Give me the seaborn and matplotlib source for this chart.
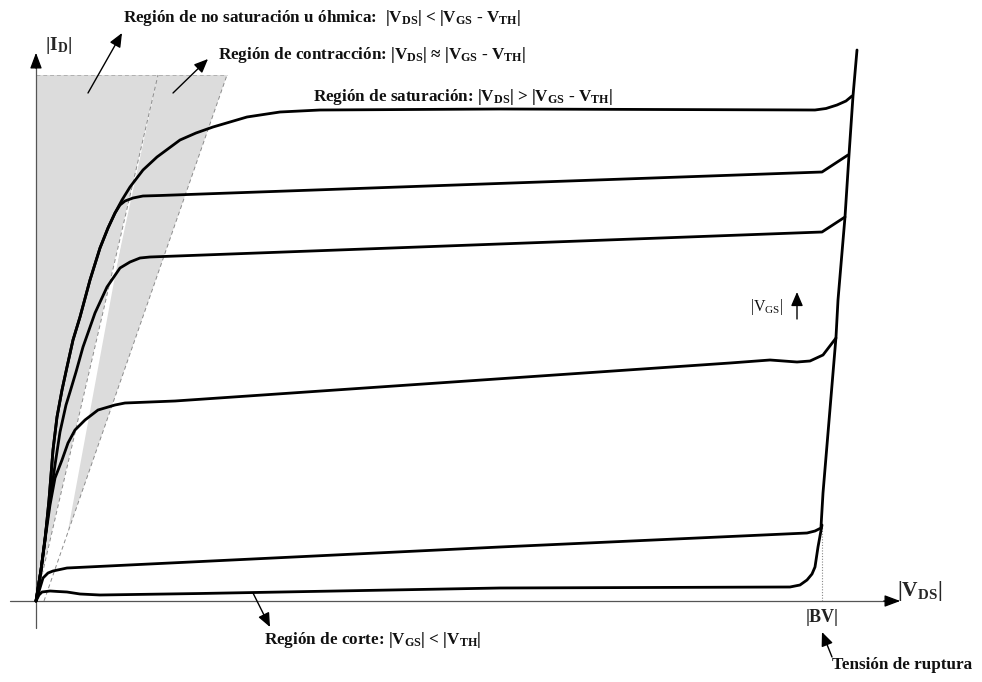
import matplotlib
matplotlib.use("Agg")
import matplotlib.pyplot as plt
import numpy as np
import pandas as pd
import seaborn as sns

# --- Output characteristics of a MOSFET (arbitrary units) -------------------
# Each curve: |V_DS| values and matching |I_D| values, lowest |V_GS| last.
vds_1 = [0.0, 0.5, 0.9, 1.3, 1.7, 2.1, 2.6, 3.1, 3.7, 4.4, 5.4, 6.4, 7.2, 7.9,
         8.6, 9.4, 10.7, 12.1, 14.4, 16.0, 17.7, 19.4, 21.1, 24.4, 28.4, 46.4,
         77.9, 79.0, 80.1, 81.0, 81.6]
id_1 = [0.0, 3.1, 6.1, 10.1, 15.1, 18.4, 21.1, 23.4, 26.1, 28.4, 32.1, 35.3,
        37.3, 38.8, 40.1, 41.4, 43.1, 44.4, 46.1, 46.8, 47.4, 47.9, 48.4, 48.9,
        49.1, 49.2, 49.1, 49.25, 49.6, 50.0, 50.5]

vds_2 = [0.0, 0.5, 0.9, 1.3, 1.7, 2.1, 2.6, 3.1, 3.7, 4.4, 5.4, 6.4, 7.2, 7.9,
         8.4, 8.9, 9.7, 10.7, 12.4, 78.6, 81.2]
id_2 = [0.0, 3.1, 6.1, 10.1, 15.1, 18.4, 21.1, 23.4, 26.1, 28.4, 32.1, 35.3,
        37.3, 38.8, 39.6, 40.0, 40.3, 40.5, 40.55, 42.9, 44.6]

vds_3 = [0.0, 0.5, 0.9, 1.4, 1.9, 2.4, 3.0, 3.4, 4.0, 4.7, 5.9, 7.1, 8.4, 9.4,
         10.4, 11.4, 78.6, 80.9]
id_3 = [0.0, 3.1, 6.3, 10.1, 13.6, 16.9, 19.6, 20.9, 22.9, 25.4, 28.8, 31.4,
        33.3, 33.9, 34.3, 34.4, 36.9, 38.4]

vds_4 = [0.0, 0.5, 0.9, 1.4, 1.9, 2.6, 3.2, 3.9, 4.9, 6.2, 7.9, 8.9, 13.9,
         69.4, 73.4, 76.1, 77.4, 78.7, 80.0]
id_4 = [0.0, 3.1, 6.1, 9.6, 12.3, 14.1, 15.8, 17.1, 18.1, 19.1, 19.6, 19.8,
        20.0, 23.8, 24.1, 23.9, 24.0, 24.6, 26.3]

vds_5 = [0.0, 0.4, 0.7, 1.2, 1.7, 3.1, 46.4, 77.1, 77.9, 78.5]
id_5 = [0.0, 1.3, 2.3, 2.8, 3.0, 3.3, 5.4, 6.8, 7.0, 7.3]

# Cut-off curve bending up into breakdown
vds_6 = [0.0, 0.3, 0.6, 1.4, 2.2, 3.1, 4.4, 6.4, 16.4, 46.4, 75.4, 76.4, 77.1,
         77.6, 77.9, 78.2, 78.6]
id_6 = [0.0, 0.6, 0.9, 1.0, 0.95, 0.9, 0.7, 0.6, 0.75, 1.3, 1.4, 1.6, 2.1,
        2.7, 3.4, 5.4, 7.6]

# Avalanche breakdown line
vds_bd = [78.5, 78.7, 80.0, 80.2, 80.9, 81.3, 81.7, 82.1]
id_bd = [7.4, 10.8, 26.4, 30.1, 38.4, 44.6, 50.5, 55.1]

bv = 78.6          # breakdown voltage |BV|
id_top = 52.6      # upper edge of the shaded regions
ohmic_edge = 12.2  # |V_DS| where the ohmic boundary meets the top edge
pinch_edge = 19.1  # |V_DS| where the pinch-off boundary meets the top edge

curves = [(vds_1, id_1), (vds_2, id_2), (vds_3, id_3), (vds_4, id_4),
          (vds_5, id_5), (vds_6, id_6), (vds_bd, id_bd)]
frames = []
for k, (xv, yv) in enumerate(curves):
    frames.append(pd.DataFrame({"vds": xv, "id": yv, "curve": k}))
df = pd.concat(frames, ignore_index=True)

# --- Figure -----------------------------------------------------------------
sns.set_theme(style="white")
plt.rcParams["font.family"] = ["Liberation Serif", "DejaVu Serif"]
plt.rcParams["mathtext.fontset"] = "custom"
plt.rcParams["mathtext.rm"] = "Liberation Serif"
plt.rcParams["mathtext.bf"] = "Liberation Serif:bold"
plt.rcParams["mathtext.it"] = "Liberation Serif:italic"

fig = plt.figure(figsize=(9.82, 6.82), dpi=100)
ax = fig.add_axes([0, 0, 1, 1])

grey = "#dcdcdc"
# Ohmic (non-saturation) region
ax.fill([0, 0, ohmic_edge], [0, id_top, id_top], color=grey, lw=0, zorder=1)
# Pinch-off (contraction) region
ax.fill([ohmic_edge, pinch_edge, 0.8], [id_top, id_top, 0.0], color=grey,
        lw=0, zorder=1)
# narrow unshaded gap between the two regions
ax.fill([9.4, 0.0, 1.9], [40.6, 0.0, 0.0], color="white", lw=0, zorder=1.5)
# region borders
ax.plot([0, ohmic_edge], [0, id_top], color="#8c8c8c", lw=0.7,
        ls=(0, (4, 3)), zorder=2)
ax.plot([0.8, pinch_edge], [0, id_top], color="#8c8c8c", lw=0.7,
        ls=(0, (4, 3)), zorder=2)
ax.plot([0, pinch_edge], [id_top, id_top], color="#b0b0b0", lw=0.7,
        ls=(0, (4, 3)), zorder=2)

# Axes with arrows
ax.plot([0, 0], [-2.7, 54.0], color="#555555", lw=0.9, zorder=3)
ax.annotate("", xy=(0, 55.1), xytext=(0, 53.0),
            arrowprops=dict(arrowstyle="-|>,head_length=0.8,head_width=0.3",
                            color="black", lw=0.9), zorder=3)
ax.plot([-2.6, 85.5], [0, 0], color="#555555", lw=0.9, zorder=3)
ax.annotate("", xy=(86.7, 0), xytext=(84.5, 0),
            arrowprops=dict(arrowstyle="-|>,head_length=0.8,head_width=0.3",
                            color="black", lw=0.9), zorder=3)

# |BV| marker
ax.plot([bv, bv], [0, 7.5], color="#888888", lw=0.8, ls=(0, (1, 1.5)),
        zorder=2)

# Characteristic curves
sns.lineplot(data=df, x="vds", y="id", units="curve", estimator=None,
             sort=False, color="black", lw=2.0, ax=ax, legend=False, zorder=4)
ax.set_xlim(-3.6, 94.6)
ax.set_ylim(-8.1, 60.1)
ax.axis("off")

# --- Labels -----------------------------------------------------------------
fs = 12.3
bold = dict(fontsize=fs, fontweight="bold", va="center", ha="left",
            color="#111111")
arrow = dict(arrowstyle="-|>,head_length=0.7,head_width=0.3", color="black",
             lw=1.0, shrinkA=0, shrinkB=0)

ds = r"|$\mathbf{V_{DS}}$|"
gs = r"|$\mathbf{V_{GS}}$"
th = r"$\mathbf{V_{TH}}$|"

ax.text(8.7, 58.3, "Región de no saturación u óhmica:  " + ds + " < " + gs
        + " - " + th, **bold)
ax.text(18.2, 54.6, "Región de contracción: " + ds + " ≈ " + gs + " - " + th,
        **bold)
ax.text(27.7, 50.4, "Región de saturación: " + ds + " > " + gs + " - " + th,
        **bold)
ax.text(22.8, -3.9, "Región de corte: " + r"|$\mathbf{V_{GS}}$| < "
        + r"|$\mathbf{V_{TH}}$|", **bold)
ax.text(79.6, -6.4, "Tensión de ruptura", **bold)
ax.text(bv, -1.6, "|BV|", fontsize=13, fontweight="bold", ha="center",
        va="center", color="#222222")
ax.text(86.1, 1.0, r"|$\mathbf{V_{DS}}$|", fontsize=15.5, fontweight="bold",
        ha="left", va="center")
ax.text(0.9, 55.6, r"|$\mathbf{I_{D}}$|", fontsize=14, fontweight="bold",
        ha="left", va="center")
ax.text(71.4, 29.4, r"|$\mathrm{V_{GS}}$|", fontsize=11.5, ha="left",
        va="center", color="#111111")
ax.annotate("", xy=(76.1, 30.9), xytext=(76.1, 28.2), arrowprops=arrow)

ax.annotate("", xy=(8.6, 56.8), xytext=(5.2, 50.8), arrowprops=arrow)
ax.annotate("", xy=(17.2, 54.2), xytext=(13.7, 50.8), arrowprops=arrow)
ax.annotate("", xy=(23.4, -2.6), xytext=(21.7, 0.8), arrowprops=arrow)
ax.annotate("", xy=(78.6, -3.1), xytext=(79.6, -5.6), arrowprops=arrow)

fig.savefig("out.png", dpi=100)
